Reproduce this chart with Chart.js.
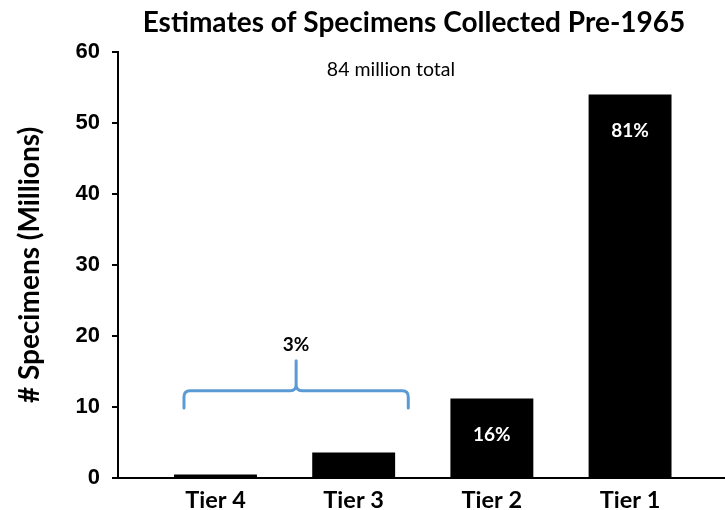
<!DOCTYPE html>
<html>
<head>
<meta charset="utf-8">
<script src="https://cdn.jsdelivr.net/npm/chart.js@4.4.1/dist/chart.umd.min.js"></script>
<style>
  html, body { margin: 0; padding: 0; background: #fff; }
  canvas { display: block; }
</style>
</head>
<body>
<canvas id="chart" width="725" height="510"></canvas>
<script>
// Specimen estimates per tier (millions)
const tiers = ['Tier 4', 'Tier 3', 'Tier 2', 'Tier 1'];
const specimensMillions = [0.5, 3.6, 11.2, 54];
const shareLabels = ['', '', '16%', '81%'];
const groupedShare = { label: '3%', from: 0, to: 1 };
const yTickValues = [0, 10, 20, 30, 40, 50, 60];

const chartTitle = 'Estimates of Specimens Collected Pre-1965';
const totalNote = '84 million total';
const yAxisTitle = '# Specimens (Millions)';

// Title, total note, in-bar shares and the bracket over the two small tiers
const annotations = {
  id: 'annotations',
  afterDatasetsDraw(chart) {
    const { ctx, scales: { x, y } } = chart;
    ctx.save();
    ctx.textAlign = 'center';
    ctx.textBaseline = 'middle';

    ctx.fillStyle = '#000';
    ctx.font = 'bold 28px Lato';
    ctx.fillText(chartTitle, 414, 23);

    ctx.font = '19.5px Lato';
    ctx.fillText(totalNote, x.getPixelForValue(1.27), y.getPixelForValue(57.5));

    ctx.fillStyle = '#fff';
    ctx.font = 'bold 19px Lato';
    shareLabels.forEach((t, i) => {
      if (!t) return;
      ctx.fillText(t, x.getPixelForValue(i), y.getPixelForValue(specimensMillions[i]) + 36);
    });

    // bracket
    const xl = x.getPixelForValue(groupedShare.from - 0.228);
    const xr = x.getPixelForValue(groupedShare.to + 0.395);
    const xm = (xl + xr) / 2;
    const yEnd = y.getPixelForValue(9.85);
    const yBar = y.getPixelForValue(12.3);
    const yTip = y.getPixelForValue(16.5);
    const r = 6;
    ctx.strokeStyle = '#5B9BD5';
    ctx.lineWidth = 3;
    ctx.lineCap = 'round';
    ctx.lineJoin = 'round';
    ctx.beginPath();
    ctx.moveTo(xl, yEnd);
    ctx.lineTo(xl, yBar + r);
    ctx.quadraticCurveTo(xl, yBar, xl + r, yBar);
    ctx.lineTo(xm - r, yBar);
    ctx.quadraticCurveTo(xm, yBar, xm, yBar - r);
    ctx.lineTo(xm, yTip);
    ctx.moveTo(xm, yBar - r);
    ctx.quadraticCurveTo(xm, yBar, xm + r, yBar);
    ctx.lineTo(xr - r, yBar);
    ctx.quadraticCurveTo(xr, yBar, xr, yBar + r);
    ctx.lineTo(xr, yEnd);
    ctx.stroke();

    ctx.fillStyle = '#000';
    ctx.font = 'bold 19px Lato';
    ctx.fillText(groupedShare.label, xm, y.getPixelForValue(18.7));
    ctx.restore();
  }
};

new Chart(document.getElementById('chart'), {
  type: 'bar',
  data: {
    datasets: [{
      data: tiers.map((t, i) => ({ x: i, y: specimensMillions[i] })),
      backgroundColor: '#000',
      borderWidth: 0,
      barPercentage: 0.6,
      categoryPercentage: 1
    }]
  },
  options: {
    responsive: false,
    animation: false,
    devicePixelRatio: 1,
    layout: { padding: { top: 52, left: 0, right: 0, bottom: 0 } },
    plugins: {
      legend: { display: false },
      tooltip: { enabled: false },
      title: { display: false }
    },
    scales: {
      x: {
        type: 'linear',
        offset: false,
        min: -0.7055,
        max: 3.687,
        afterBuildTicks(scale) { scale.ticks = tiers.map((t, i) => ({ value: i })); },
        ticks: {
          callback: v => tiers[v],
          font: { family: 'Lato', weight: 'bold', size: 23.5 },
          color: '#000',
          padding: 0,
          autoSkip: false,
          maxRotation: 0
        },
        grid: { display: false, offset: false },
        border: { display: true, color: '#000', width: 2 },
        afterFit(scale) { scale.height = 32; }
      },
      y: {
        min: 0,
        max: 60,
        afterBuildTicks(scale) { scale.ticks = yTickValues.map(v => ({ value: v })); },
        ticks: {
          font: { family: 'Liberation Sans', weight: 'bold', size: 22 },
          color: '#000',
          padding: 12
        },
        grid: { display: true, drawOnChartArea: false, drawTicks: true, tickLength: 6, color: '#000', lineWidth: 2 },
        border: { display: true, color: '#000', width: 2 },
        title: {
          display: true,
          text: yAxisTitle,
          font: { family: 'Lato', weight: 'bold', size: 28 },
          color: '#000',
          padding: { top: 13, bottom: 0 }
        },
        afterFit(scale) { scale.width = 118; }
      }
    }
  },
  plugins: [annotations]
});
</script>
</body>
</html>
